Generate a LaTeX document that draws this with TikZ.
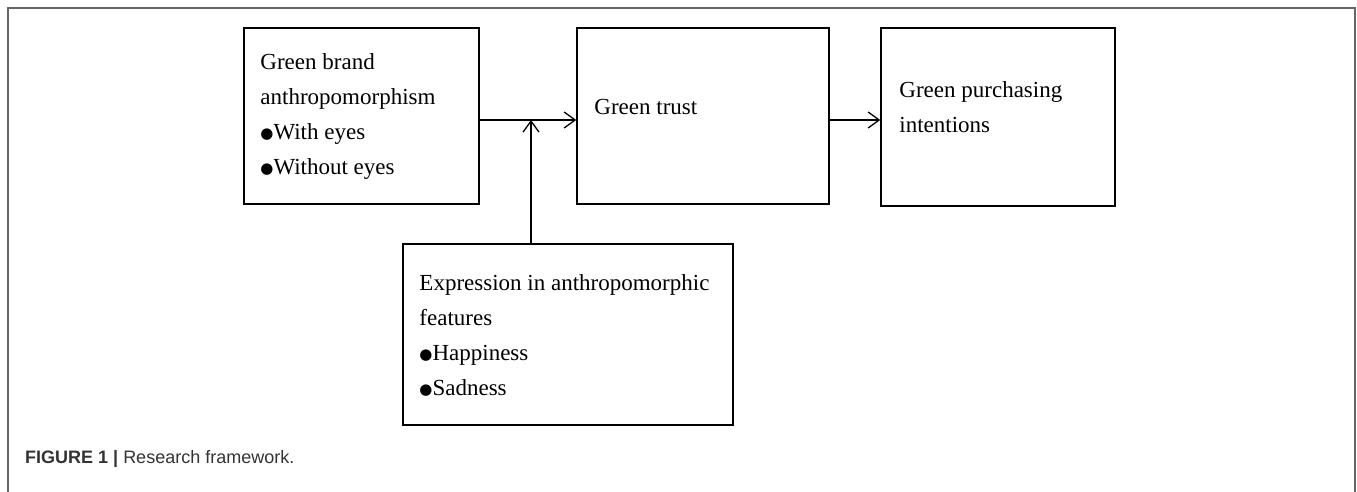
\documentclass[tikz,border=0pt]{standalone}
\usepackage{fontspec}
\setmainfont{Liberation Serif}
\setsansfont{Liberation Sans}
\newfontfamily\symfont{DejaVu Sans}
\newcommand\blt{\raisebox{1.5pt}{\symfont\fontsize{15}{15}\selectfont ●}}
\usetikzlibrary{arrows.meta}
\tikzset{
  box/.style={draw=black, line width=1.5pt, rectangle, inner sep=0pt},
  boxtext/.style={anchor=west, align=left, inner sep=0pt, font=\fontsize{23}{35}\selectfont},
  link/.style={line width=1.3pt, -{Straight Barb[length=11pt,width=16pt,line width=1.3pt]}}
}
\begin{document}
\begin{tikzpicture}[x=1pt, y=-1pt]
    \useasboundingbox (0,0) rectangle (1357,492);
    % Outer frame (open at the bottom)
    \draw[gray!80!black, line width=1.2pt] (8,492) -- (8,8) -- (1355,8) -- (1355,492);

    % Boxes
    \node[box, minimum width=235pt, minimum height=176pt] (boxA) at (361.5,116) {};
    \node[box, minimum width=252pt, minimum height=176pt] (boxB) at (703,116) {};
    \node[box, minimum width=234pt, minimum height=178pt] (boxC) at (998,117) {};
    \node[box, minimum width=330pt, minimum height=181pt] (boxD) at (568,334.5) {};

    % Box texts
    \node[boxtext] (txtA) at ([xshift=17pt,yshift=-1pt]boxA.west)
      {Green brand\\anthropomorphism\\\blt With eyes\\\blt Without eyes};
    \node[boxtext] (txtB) at ([xshift=18pt,yshift=9pt]boxB.west) {Green trust};
    \node[boxtext] (txtC) at ([xshift=19pt,yshift=10pt]boxC.west)
      {Green purchasing\\intentions};
    \node[boxtext] (txtD) at ([xshift=17pt,yshift=-1pt]boxD.west)
      {Expression in anthropomorphic\\features\\\blt Happiness\\\blt Sadness};

    % Connectors
    \coordinate (join) at (531,120);
    \draw[link] (boxA.east |- join) -- (boxB.west |- join);
    \draw[link] (boxB.east |- join) -- (boxC.west |- join);
    \draw[link] (boxD.north -| join) -- (join);

    % Caption
    \node[anchor=base west, inner sep=0pt, text=black!80, font=\sffamily\fontsize{18}{21}\selectfont] (caption) at (25,463)
      {\textbf{FIGURE 1 |} Research framework.};
\end{tikzpicture}
\end{document}
